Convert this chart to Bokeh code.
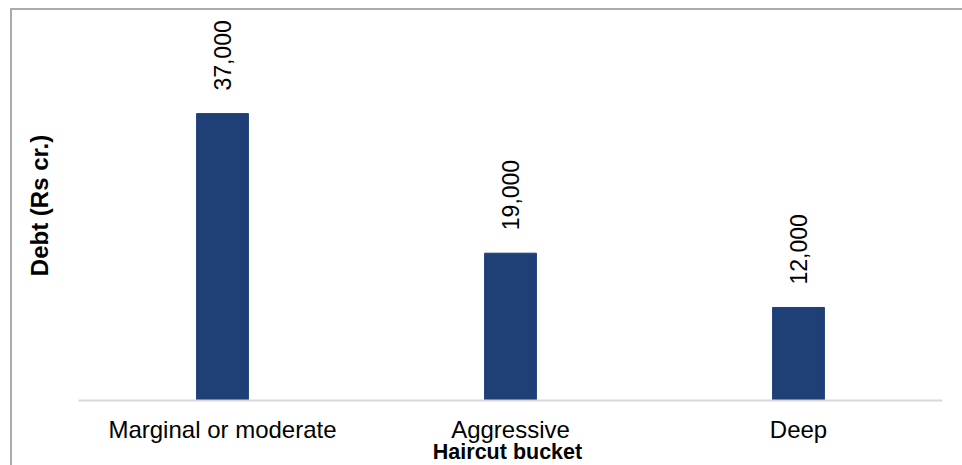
from bokeh.plotting import figure
from bokeh.models import ColumnDataSource, LabelSet, Range1d
from bokeh.core.properties import value
from bokeh.embed import file_html
from bokeh.resources import INLINE
import math

categories = ["Marginal or moderate", "Aggressive", "Deep"]
debt = [37000, 19000, 12000]
labels = [f"{v:,}" for v in debt]

source = ColumnDataSource(dict(cat=categories, debt=debt, label=labels))

FONT = "Liberation Sans"
BAR = "#1f3f77"

p = figure(x_range=categories, y_range=Range1d(0, 50300),
           frame_width=864, frame_height=390, output_backend="svg", toolbar_location=None,
           min_border_left=66, min_border_right=20, min_border_top=0, min_border_bottom=65)
p.styles = {"margin-left": "10px", "margin-top": "8px",
            "border-top": "2px solid #ababab", "border-left": "2px solid #ababab"}
p.outline_line_color = None
p.grid.grid_line_color = None
p.background_fill_color = "white"
p.border_fill_color = "white"

p.vbar(x="cat", top="debt", width=0.18, source=source, fill_color=BAR, line_color=BAR)

p.add_layout(LabelSet(x="cat", y="debt", text="label", source=source, angle=math.pi / 2,
                      text_align="left", text_baseline="middle", y_offset=23,
                      text_font=value(FONT), text_font_size=value("23px"),
                      text_color="#000000"))

xa = p.xaxis[0]
xa.axis_line_color = "#d9d9d9"
xa.axis_line_width = 2
xa.major_tick_line_color = None
xa.minor_tick_line_color = None
xa.major_tick_out = 0
xa.major_label_text_font = FONT
xa.major_label_text_font_size = "24px"
xa.major_label_text_color = "#000000"
xa.major_label_standoff = 15
xa.axis_label = "Haircut  bucket"
xa.axis_label_text_font = FONT
xa.axis_label_text_font_style = "bold"
xa.axis_label_text_font_size = "21.5px"
xa.axis_label_text_color = "#000000"
xa.axis_label_standoff = -6

ya = p.yaxis[0]
ya.ticker = []
ya.axis_line_color = None
ya.major_tick_line_color = None
ya.minor_tick_line_color = None
ya.axis_label = "Debt (Rs cr.)"
ya.axis_label_text_font = FONT
ya.axis_label_text_font_style = "bold"
ya.axis_label_text_font_size = "24px"
ya.axis_label_text_color = "#000000"
ya.axis_label_standoff = 26

open("out.html", "w").write(file_html(p, INLINE))
